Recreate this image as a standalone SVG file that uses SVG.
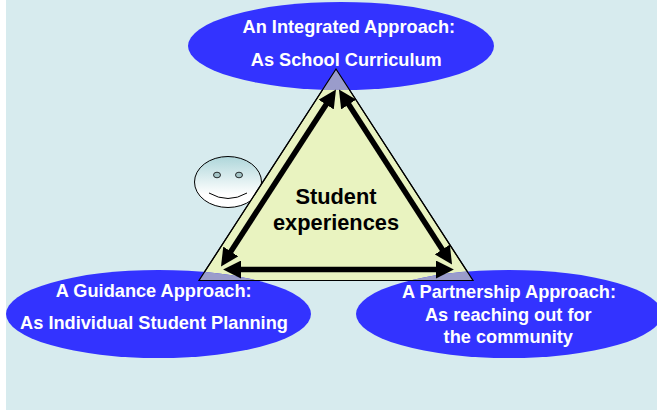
<svg xmlns="http://www.w3.org/2000/svg" width="657" height="410" viewBox="0 0 657 410">
<style>
.oval{fill:#3333ff}
.t{font-family:"Liberation Sans",Arial,sans-serif;font-weight:bold;font-size:18.200px;fill:#fff;text-anchor:middle}
.c{font-family:"Liberation Sans",Arial,sans-serif;font-weight:bold;font-size:21.800px;fill:#000;text-anchor:middle}
.a{stroke:#000;stroke-width:5.500;fill:none;marker-start:url(#h);marker-end:url(#h)}
</style>
<defs>
<marker id="h" markerUnits="userSpaceOnUse" markerWidth="18" markerHeight="18" refX="1" refY="8" orient="auto-start-reverse" viewBox="0 0 16 16"><path d="M0 0L16 8L0 16Z" fill="#000"/></marker>
<linearGradient id="g" x1="0" y1="0" x2="0" y2="1"><stop offset="0" stop-color="#aed6da"/><stop offset="0.750" stop-color="#fff"/></linearGradient>
<clipPath id="e1"><ellipse cx="341" cy="46" rx="153" ry="44"/></clipPath>
<clipPath id="e2"><ellipse cx="158.500" cy="314" rx="152.500" ry="44"/></clipPath>
<clipPath id="e3"><ellipse cx="509" cy="314" rx="153" ry="44"/></clipPath>
</defs>
<rect width="657" height="410" fill="#fff"/>
<rect x="6" width="651" height="410" fill="#d7ebee"/>
<g id="face">
<ellipse cx="228" cy="182" rx="33.500" ry="25.500" fill="url(#g)" stroke="#000" stroke-width="1"/>
<ellipse cx="217" cy="175" rx="3.500" ry="2.800" fill="#a3c4c6" stroke="#000" stroke-width="0.800"/>
<ellipse cx="239" cy="175" rx="3.500" ry="2.800" fill="#a3c4c6" stroke="#000" stroke-width="0.800"/>
<path d="M209 193Q228 204 247 193" fill="none" stroke="#000"/>
</g>
<g id="triangle"><polygon points="336,69 199,280.500 473,280.500" fill="#e9f3c0" stroke="#000" stroke-width="1.200"/></g>
<g id="node-top"><ellipse class="oval" cx="341" cy="46" rx="153" ry="44"/></g>
<g id="node-left"><ellipse class="oval" cx="158.500" cy="314" rx="152.500" ry="44"/></g>
<g id="node-right"><ellipse class="oval" cx="509" cy="314" rx="153" ry="44"/></g>
<g id="overlaps" fill="#9a9ccb">
<polygon points="336,69 199,280.500 473,280.500" clip-path="url(#e1)"/>
<polygon points="336,69 199,280.500 473,280.500" clip-path="url(#e2)"/>
<polygon points="336,69 199,280.500 473,280.500" clip-path="url(#e3)"/>
</g>
<path d="M336 69L199 280.500H473Z" fill="none" stroke="#000" stroke-width="1.200"/>
<g id="connectors">
<path class="a" d="M326.800 103.600L230.200 252.400"/>
<path class="a" d="M348.100 103.600L442.900 250.400"/>
<path class="a" d="M240 269.500H437"/>
</g>
<g id="labels">
<text class="t" x="348.800" y="33">An Integrated Approach:</text>
<text class="t" x="346.300" y="65.500">As School Curriculum</text>
<text class="t" x="153.700" y="296.700">A Guidance Approach:</text>
<text class="t" x="154" y="328.700">As Individual Student Planning</text>
<text class="t" x="509" y="298">A Partnership Approach:</text>
<text class="t" x="508.300" y="320.700">As reaching out for</text>
<text class="t" x="508.300" y="342.700">the community</text>
<text class="c" x="336" y="204">Student</text>
<text class="c" x="336" y="230">experiences</text>
</g>
</svg>
